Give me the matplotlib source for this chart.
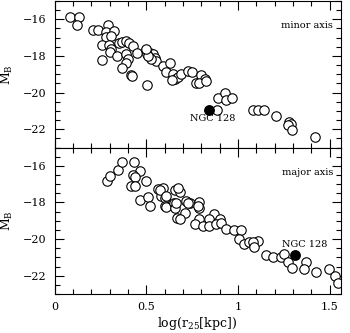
import numpy as np
import matplotlib.pyplot as plt
from matplotlib.ticker import MultipleLocator

plt.rcParams['font.family'] = 'DejaVu Serif'
plt.rcParams['mathtext.fontset'] = 'dejavuserif'

# minor axis sample: log r25 [kpc], M_B
minor_x = [0.085, 0.135, 0.12, 0.21, 0.235, 0.29, 0.283, 0.325, 0.278, 0.305,
           0.26, 0.296, 0.305, 0.30, 0.256, 0.35, 0.368, 0.387, 0.405, 0.34,
           0.39, 0.40, 0.39, 0.365, 0.43, 0.45, 0.417, 0.42, 0.497, 0.52,
           0.537, 0.546, 0.555, 0.504, 0.528, 0.51, 0.504, 0.59, 0.628, 0.61,
           0.646, 0.655, 0.673, 0.69, 0.727, 0.75, 0.80, 0.818, 0.773, 0.79,
           0.827, 0.89, 0.927, 0.936, 0.97, 0.885, 1.084, 1.11, 1.14, 1.207,
           1.28, 1.29, 1.275, 1.293, 1.42, 0.638, 0.50]
minor_y = [-15.88, -15.85, -16.32, -16.56, -16.6, -16.29, -16.68, -16.65, -16.95, -16.92,
           -17.42, -17.42, -17.6, -17.8, -18.23, -17.28, -17.24, -17.19, -17.28, -18.0,
           -17.9, -18.18, -18.36, -18.66, -17.46, -17.82, -19.03, -19.1, -17.69, -17.82,
           -17.9, -18.09, -18.27, -17.9, -18.18, -18.0, -19.57, -18.54, -18.36, -18.9,
           -18.99, -19.26, -19.17, -18.99, -18.81, -18.85, -19.03, -19.26, -19.5, -19.5,
           -19.35, -20.29, -20.04, -20.4, -20.29, -20.94, -20.94, -20.94, -20.97, -21.3,
           -21.6, -21.7, -21.78, -22.05, -22.41, -19.3, -17.6]

# major axis sample
major_x = [0.287, 0.30, 0.347, 0.368, 0.432, 0.468, 0.428, 0.44, 0.416, 0.44,
           0.496, 0.465, 0.51, 0.523, 0.564, 0.59, 0.582, 0.60, 0.60, 0.573,
           0.61, 0.655, 0.606, 0.65, 0.655, 0.667, 0.682, 0.664, 0.718, 0.736,
           0.787, 0.787, 0.71, 0.682, 0.872, 0.90, 0.845, 0.79, 0.764, 0.81,
           0.845, 0.88, 0.91, 0.937, 0.98, 1.017, 1.008, 1.035, 1.063, 1.09,
           1.108, 1.08, 1.09, 1.153, 1.193, 1.234, 1.25, 1.276, 1.295, 1.37,
           1.36, 1.425, 1.497, 1.53, 1.547, 0.78, 0.727, 0.673]
major_y = [-16.85, -16.58, -16.22, -15.77, -15.8, -16.27, -16.52, -16.6, -17.12, -17.12,
           -16.85, -17.84, -17.71, -18.2, -17.24, -17.2, -17.66, -17.75, -18.2, -17.3,
           -17.66, -17.3, -18.23, -18.02, -18.29, -18.86, -17.44, -18.05, -17.93, -18.02,
           -17.98, -18.29, -18.56, -18.92, -18.65, -18.92, -18.92, -18.88, -19.19, -19.28,
           -19.28, -19.19, -19.1, -19.46, -19.5, -19.5, -20.0, -20.27, -20.18, -20.27,
           -20.09, -20.18, -20.45, -20.85, -21.0, -21.0, -20.81, -21.26, -21.59, -21.26,
           -21.62, -21.8, -21.62, -22.02, -22.38, -18.2, -18.02, -17.2]

# NGC 128
ngc_minor = (0.845, -20.93)
ngc_major = (1.31, -20.87)

fig, axes = plt.subplots(2, 1, figsize=(3.5, 3.33), dpi=100, sharex=True)
fig.subplots_adjust(left=0.156, right=0.973, top=0.997, bottom=0.117, hspace=0)

panels = [(minor_x, minor_y, ngc_minor, 'minor axis'),
          (major_x, major_y, ngc_major, 'major axis')]

for ax, (xs, ys, ngc, name) in zip(axes, panels):
    ax.plot(xs, ys, 'o', mfc='white', mec='black', mew=0.8, ms=6.8, ls='none')
    ax.plot(*ngc, 'o', color='black', ms=6.8, ls='none')
    ax.set_xlim(0, 1.56)
    ax.set_ylim(-23, -15)
    ax.xaxis.set_major_locator(MultipleLocator(0.5))
    ax.xaxis.set_minor_locator(MultipleLocator(0.1))
    ax.yaxis.set_major_locator(MultipleLocator(2))
    ax.yaxis.set_minor_locator(MultipleLocator(0.5))
    ax.tick_params(which='both', direction='in', top=True, right=True, labelsize=8)
    ax.tick_params(which='major', length=6.5, width=0.8)
    ax.tick_params(which='minor', length=3.5, width=0.8)
    ax.tick_params(axis='x', pad=6)
    ax.tick_params(axis='y', pad=6)
    ax.set_ylabel(r'M$_{\rm B}$', fontsize=9)
    ax.yaxis.set_label_coords(-0.14, 0.5)
    ax.text(1.52, -16.35, name, fontsize=7, ha='right', va='center')
    for s in ax.spines.values():
        s.set_linewidth(0.8)

axes[0].text(0.86, -21.4, 'NGC 128', fontsize=7, ha='center', va='center')
axes[1].text(1.365, -20.27, 'NGC 128', fontsize=7, ha='center', va='center')
axes[1].xaxis.set_major_formatter(plt.FuncFormatter(lambda v, p: f'{v:g}'))
axes[1].set_xlabel(r'log(r$_{25}$[kpc])', fontsize=9, labelpad=2)

fig.savefig('out.png', dpi=100)
